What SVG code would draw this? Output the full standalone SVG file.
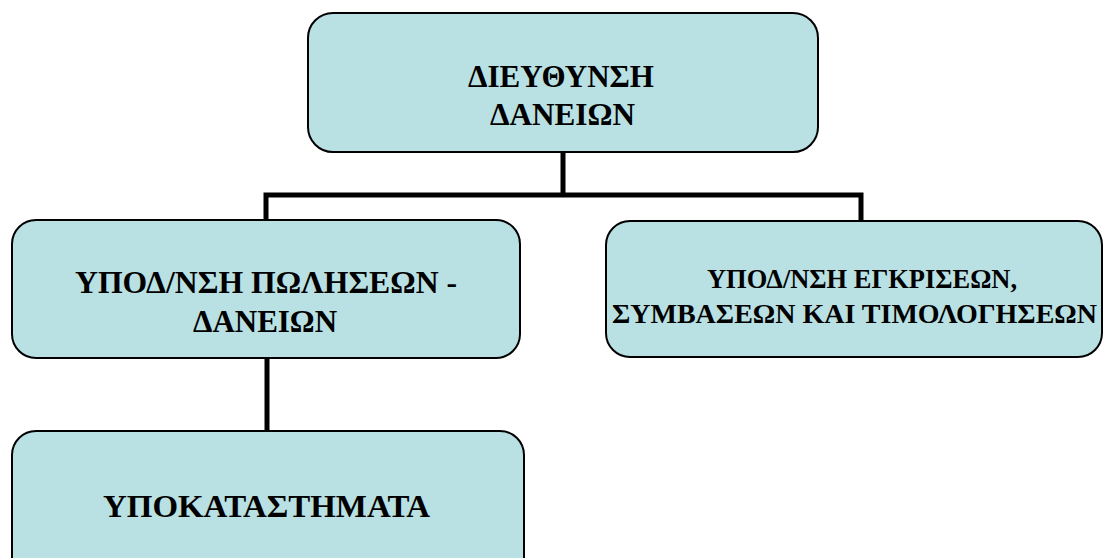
<svg xmlns="http://www.w3.org/2000/svg" width="1104" height="558" viewBox="0 0 1104 558">
  <style>
    .box { fill: #B9E0E3; stroke: #000; stroke-width: 2; }
    .lbl { font-family: "Liberation Serif", "Times New Roman", serif; font-weight: bold; fill: #000; text-anchor: middle; }
    .wire { stroke: #000; stroke-width: 5; fill: none; stroke-linecap: square; }
  </style>
  <rect width="1104" height="558" fill="#fff"/>

  <!-- connectors -->
  <g id="connectors">
    <path class="wire" d="M563 152 V195 M266 195 H861 M266 195 V220 M861 195 V220"/>
    <path class="wire" d="M267 358 V430"/>
  </g>

  <!-- head office -->
  <g id="node-dieythynsi">
    <rect class="box" x="308" y="13" width="510" height="139" rx="25"/>
    <text class="lbl" font-size="31" x="561" y="87" textLength="186" lengthAdjust="spacingAndGlyphs">ΔΙΕΥΘΥΝΣΗ</text>
    <text class="lbl" font-size="31" x="562.5" y="125" textLength="145" lengthAdjust="spacingAndGlyphs">ΔΑΝΕΙΩΝ</text>
  </g>

  <!-- sales sub-directorate -->
  <g id="node-poliseon">
    <rect class="box" x="12" y="220" width="508" height="138" rx="24"/>
    <text class="lbl" font-size="31" x="266" y="293" textLength="382" lengthAdjust="spacingAndGlyphs">ΥΠΟΔ/ΝΣΗ ΠΩΛΗΣΕΩΝ -</text>
    <text class="lbl" font-size="31" x="265" y="332" textLength="144" lengthAdjust="spacingAndGlyphs">ΔΑΝΕΙΩΝ</text>
  </g>

  <!-- approvals sub-directorate -->
  <g id="node-egkriseon">
    <rect class="box" x="606" y="221" width="496" height="136" rx="24"/>
    <text class="lbl" font-size="28" x="862" y="288" textLength="310" lengthAdjust="spacingAndGlyphs">ΥΠΟΔ/ΝΣΗ ΕΓΚΡΙΣΕΩΝ,</text>
    <text class="lbl" font-size="28" x="854.5" y="323" textLength="485" lengthAdjust="spacingAndGlyphs">ΣΥΜΒΑΣΕΩΝ ΚΑΙ ΤΙΜΟΛΟΓΗΣΕΩΝ</text>
  </g>

  <!-- branches -->
  <g id="node-ypokatastimata">
    <rect class="box" x="12" y="431" width="512" height="150" rx="24"/>
    <text class="lbl" font-size="32" x="266.5" y="517" textLength="327" lengthAdjust="spacingAndGlyphs">ΥΠΟΚΑΤΑΣΤΗΜΑΤΑ</text>
  </g>
</svg>
